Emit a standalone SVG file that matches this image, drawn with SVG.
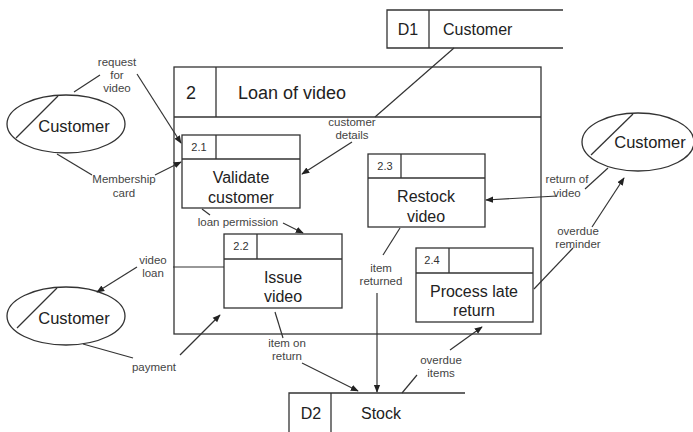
<svg xmlns="http://www.w3.org/2000/svg" width="693" height="432" viewBox="0 0 693 432">
<defs>
<marker id="arr" viewBox="0 0 10 10" refX="9" refY="5" markerWidth="8" markerHeight="8" markerUnits="userSpaceOnUse" orient="auto">
<path d="M0,1 L10,5 L0,9 Z" fill="#222"/>
</marker>
</defs>
<style>
.box{fill:#fff;stroke:#333;stroke-width:1.3}
.ln{fill:none;stroke:#333;stroke-width:1.3}
.c{stroke:#333;stroke-width:1.2;fill:none}
.a{stroke:#333;stroke-width:1.2;fill:none;marker-end:url(#arr)}
.t{font-family:"Liberation Sans",Arial,sans-serif;font-size:16px;fill:#222;text-anchor:middle}
.n{font-family:"Liberation Sans",Arial,sans-serif;font-size:11px;fill:#333;text-anchor:middle}
.l{font-family:"Liberation Sans",Arial,sans-serif;font-size:11.5px;fill:#444;text-anchor:middle}
</style>
<rect width="693" height="432" fill="#fff"/>

<g id="process-2">
<rect class="box" x="174" y="67" width="367" height="267"/>
<line class="ln" x1="174" y1="117" x2="541" y2="117"/>
<line class="ln" x1="216" y1="67" x2="216" y2="117"/>
<text class="t" x="191" y="99" style="font-size:18px">2</text>
<text class="t" x="238" y="99" style="font-size:18px;text-anchor:start">Loan of video</text>
</g>

<g id="d1-customer">
<path class="ln" d="M563,10 L387,10 L387,48 L563,48"/>
<line class="ln" x1="429" y1="10" x2="429" y2="48"/>
<text class="t" x="408" y="35">D1</text>
<text class="t" x="443" y="35" style="text-anchor:start">Customer</text>
</g>

<g id="d2-stock">
<path class="ln" d="M465,393 L289,393 L289,432"/>
<line class="ln" x1="331" y1="393" x2="331" y2="432"/>
<text class="t" x="311" y="419">D2</text>
<text class="t" x="381" y="419">Stock</text>
</g>

<g id="p2-1">
<rect class="box" x="182" y="135" width="118" height="73"/>
<line class="ln" x1="182" y1="159" x2="300" y2="159"/>
<line class="ln" x1="216" y1="135" x2="216" y2="159"/>
<text class="n" x="199" y="151">2.1</text>
<text class="t" x="241" y="183">Validate</text>
<text class="t" x="241" y="203">customer</text>
</g>

<g id="p2-3">
<rect class="box" x="368" y="154" width="117" height="73"/>
<line class="ln" x1="368" y1="178" x2="485" y2="178"/>
<line class="ln" x1="401" y1="154" x2="401" y2="178"/>
<text class="n" x="385" y="170">2.3</text>
<text class="t" x="426" y="202">Restock</text>
<text class="t" x="426" y="222">video</text>
</g>

<g id="p2-2">
<rect class="box" x="224" y="234" width="118" height="74"/>
<line class="ln" x1="224" y1="259" x2="342" y2="259"/>
<line class="ln" x1="257" y1="234" x2="257" y2="259"/>
<text class="n" x="241" y="250">2.2</text>
<text class="t" x="283" y="283">Issue</text>
<text class="t" x="283" y="302">video</text>
</g>

<g id="p2-4">
<rect class="box" x="416" y="248" width="117" height="74"/>
<line class="ln" x1="416" y1="273" x2="533" y2="273"/>
<line class="ln" x1="449" y1="248" x2="449" y2="273"/>
<text class="n" x="432" y="264">2.4</text>
<text class="t" x="474" y="297">Process late</text>
<text class="t" x="474" y="316">return</text>
</g>

<g id="customer-top-left">
<ellipse class="box" cx="66" cy="124" rx="59" ry="29"/>
<line class="ln" x1="58" y1="96" x2="16" y2="138"/>
<text class="t" x="74" y="132" style="font-size:16.5px">Customer</text>
</g>

<g id="customer-bottom-left">
<ellipse class="box" cx="66" cy="316" rx="59" ry="29"/>
<line class="ln" x1="57" y1="288" x2="17" y2="328"/>
<text class="t" x="74" y="324" style="font-size:16.5px">Customer</text>
</g>

<g id="customer-right">
<ellipse class="box" cx="638" cy="142" rx="56" ry="29"/>
<line class="ln" x1="633" y1="114" x2="591" y2="155"/>
<text class="t" x="650" y="148" style="font-size:16.5px">Customer</text>
</g>

<g id="connectors">
<line class="c" x1="74" y1="92" x2="100" y2="75"/>
<line class="a" x1="137" y1="74" x2="181" y2="143"/>
<line class="c" x1="57" y1="154" x2="92" y2="175"/>
<line class="a" x1="155" y1="175" x2="181" y2="162"/>
<line class="c" x1="454" y1="48" x2="375" y2="117"/>
<line class="a" x1="352" y1="142" x2="302" y2="174"/>
<line class="c" x1="608" y1="168" x2="585" y2="189"/>
<line class="a" x1="557" y1="196" x2="486" y2="200"/>
<line class="c" x1="534" y1="289" x2="573" y2="248"/>
<line class="a" x1="592" y1="227" x2="624" y2="178"/>
<line class="c" x1="202" y1="209" x2="210" y2="215"/>
<line class="a" x1="283" y1="223" x2="303" y2="233"/>
<line class="c" x1="224" y1="267" x2="173" y2="267"/>
<line class="a" x1="137" y1="267" x2="97" y2="292"/>
<line class="c" x1="83" y1="344" x2="133" y2="358"/>
<line class="a" x1="180" y1="355" x2="220" y2="315"/>
<line class="c" x1="275" y1="312" x2="283" y2="338"/>
<line class="a" x1="302" y1="363" x2="358" y2="391"/>
<line class="c" x1="400" y1="228" x2="383" y2="255"/>
<line class="a" x1="377" y1="293" x2="377" y2="392"/>
<line class="c" x1="402" y1="393" x2="417" y2="375"/>
<line class="a" x1="450" y1="350" x2="482" y2="327"/>

<text class="l" x="117" y="66">request</text>
<text class="l" x="117" y="79">for</text>
<text class="l" x="117" y="92">video</text>
<text class="l" x="124" y="183">Membership</text>
<text class="l" x="124" y="197">card</text>
<text class="l" x="352" y="126">customer</text>
<text class="l" x="352" y="139">details</text>
<text class="l" x="567" y="183">return of</text>
<text class="l" x="567" y="197">video</text>
<text class="l" x="578" y="235">overdue</text>
<text class="l" x="578" y="248">reminder</text>
<text class="l" x="238" y="226">loan permission</text>
<text class="l" x="153" y="264">video</text>
<text class="l" x="153" y="277">loan</text>
<text class="l" x="154" y="371">payment</text>
<text class="l" x="287" y="347">item on</text>
<text class="l" x="287" y="360">return</text>
<text class="l" x="381" y="272">item</text>
<text class="l" x="381" y="285">returned</text>
<text class="l" x="441" y="364">overdue</text>
<text class="l" x="441" y="377">items</text>
</g>
</svg>
